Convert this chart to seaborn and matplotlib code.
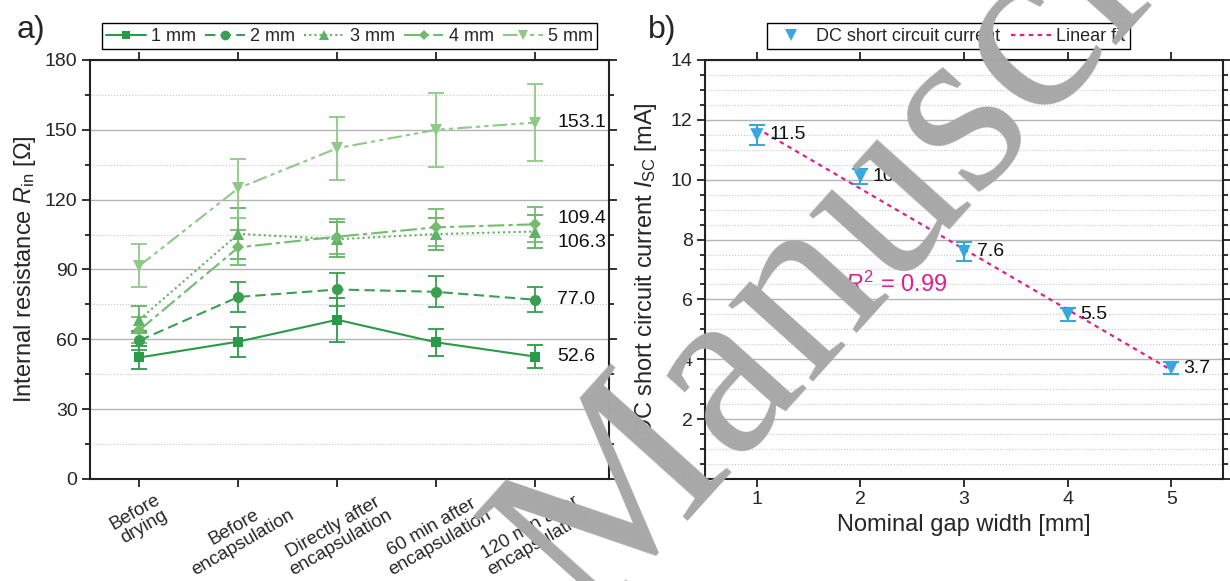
import numpy as np
import matplotlib
matplotlib.use("Agg")
import matplotlib.pyplot as plt
from matplotlib.lines import Line2D
from matplotlib.ticker import MultipleLocator
import seaborn as sns

# a) internal resistance over the process steps
stages = ["Before\ndrying", "Before\nencapsulation", "Directly after\nencapsulation",
          "60 min after\nencapsulation", "120 min after\nencapsulation"]
gap_names = ["1 mm", "2 mm", "3 mm", "4 mm", "5 mm"]

r_1mm = [52.2, 59.0, 68.4, 58.7, 52.6]
r_1mm_err = [5.0, 6.5, 9.5, 5.7, 4.8]
r_2mm = [59.5, 78.2, 81.4, 80.4, 77.0]
r_2mm_err = [4.0, 6.5, 7.2, 6.7, 5.4]
r_3mm = [68.5, 105.3, 103.0, 105.2, 106.3]
r_3mm_err = [6.0, 11.0, 7.5, 7.0, 7.0]
r_4mm = [64.0, 99.5, 104.1, 108.1, 109.4]
r_4mm_err = [5.5, 7.5, 7.5, 8.0, 7.5]
r_5mm = [91.6, 124.9, 142.1, 150.0, 153.1]
r_5mm_err = [9.3, 12.6, 13.5, 16.0, 16.4]

# b) short circuit current vs gap width
gap_mm = [1, 2, 3, 4, 5]
isc = [11.5, 10.1, 7.6, 5.5, 3.7]
isc_err = [0.34, 0.25, 0.31, 0.21, 0.2]

greens = ["#2b9a48", "#3a9f50", "#5fb263", "#74bb70", "#8fc987"]
styles = ["-", (0, (5, 2.5)), (0, (1, 1.5)), (0, (8, 2, 2, 2)), (0, (7, 2, 2, 2, 2, 2))]
markers = ["s", "o", "^", "D", "v"]
msizes = [7, 8, 8, 6.5, 8]
label_nudge = [0, 0, -8, 4, 0]   # points, to keep 106.3 / 109.4 apart
blue = "#34a8df"
pink = "#dc1f8c"

sns.set_theme(style="ticks")
plt.rcParams["font.family"] = ["Liberation Sans", "DejaVu Sans"]
plt.rcParams["mathtext.fontset"] = "custom"
plt.rcParams["mathtext.rm"] = "Liberation Sans"
plt.rcParams["mathtext.it"] = "Liberation Sans:italic"

fig = plt.figure(figsize=(12.3, 5.81), dpi=100)
ax1 = fig.add_axes([0.0732, 0.1756, 0.422, 0.7212])
ax2 = fig.add_axes([0.5732, 0.1756, 0.4211, 0.7212])


def style_axes(ax, minor_step):
    ax.yaxis.set_minor_locator(MultipleLocator(minor_step))
    ax.grid(False)
    ax.yaxis.grid(True, which="major", color="#b4b4b4", lw=1.0, ls="-")
    ax.yaxis.grid(True, which="minor", color="#c8c8c8", lw=0.8, ls=":")
    ax.set_axisbelow(True)
    ax.tick_params(which="both", direction="out", top=True, right=True,
                   color="#222222", width=1.3, labelsize=14, pad=3)
    ax.tick_params(which="major", length=6)
    ax.tick_params(which="minor", length=3.5)
    ax.tick_params(axis="x", which="minor", top=False, bottom=False)
    for sp in ax.spines.values():
        sp.set_visible(True)
        sp.set_color("#222222")
        sp.set_linewidth(1.5)


# ---- panel a ----
x_idx = np.arange(len(stages))
series = [(r_1mm, r_1mm_err), (r_2mm, r_2mm_err), (r_3mm, r_3mm_err),
          (r_4mm, r_4mm_err), (r_5mm, r_5mm_err)]
handles = []
for i, (vals, errs) in enumerate(series):
    col = greens[i]
    ax1.errorbar(x_idx, vals, yerr=errs, fmt="none", ecolor=col,
                 elinewidth=1.3, capsize=6, capthick=1.3, zorder=2)
    sns.lineplot(x=x_idx, y=vals, ax=ax1, color=col, linestyle=styles[i],
                 marker=markers[i], markersize=msizes[i], markeredgewidth=0,
                 lw=1.5, zorder=3)
    ax1.annotate(f"{vals[-1]:.1f}", xy=(x_idx[-1], vals[-1]),
                 xytext=(16, label_nudge[i]), textcoords="offset points",
                 ha="left", va="center", fontsize=14, color="#111111")
    handles.append(Line2D([], [], color=col, ls=styles[i], marker=markers[i],
                          ms=msizes[i] - 1, mew=0, lw=1.5, label=gap_names[i]))

ax1.set_xlim(-0.5, 4.75)
ax1.set_ylim(0, 180)
ax1.yaxis.set_major_locator(MultipleLocator(30))
style_axes(ax1, 15)
ax1.set_xticks(x_idx)
ax1.set_xticklabels(stages, rotation=30, ha="center", va="top", fontsize=13.5,
                    linespacing=1.0)
ax1.set_xlabel("")
ax1.set_ylabel("Internal resistance $R_\\mathrm{in}$ [Ω]", fontsize=17)
ax1.yaxis.set_label_coords(-0.1, 0.5)

leg1 = ax1.legend(handles=handles, loc="lower center", bbox_to_anchor=(0.5, 1.025),
                  ncol=5, frameon=True, fancybox=False, edgecolor="black",
                  framealpha=1, fontsize=13, handlelength=2.2, handletextpad=0.3,
                  columnspacing=0.5, borderpad=0.25, borderaxespad=0)
leg1.get_frame().set_linewidth(1.0)

# ---- panel b ----
ax2.errorbar(gap_mm, isc, yerr=isc_err, fmt="none", ecolor=blue,
             elinewidth=1.5, capsize=6, capthick=1.5, zorder=2)
sns.regplot(x=gap_mm, y=isc, ax=ax2, scatter=False, ci=None, truncate=True,
            line_kws=dict(color=pink, linestyle=(0, (2, 2)), lw=1.6, zorder=3))
sns.scatterplot(x=gap_mm, y=isc, ax=ax2, marker="v", s=90, color=blue,
                edgecolor="none", zorder=4)
for gx, gy in zip(gap_mm, isc):
    ax2.annotate(f"{gy:.1f}", xy=(gx, gy), xytext=(9, 0),
                 textcoords="offset points", ha="left", va="center",
                 fontsize=14, color="#111111")

slope, intercept = np.polyfit(gap_mm, isc, 1)
pred = slope * np.array(gap_mm) + intercept
r2 = 1 - np.sum((np.array(isc) - pred) ** 2) / np.sum((np.array(isc) - np.mean(isc)) ** 2)
ax2.text(1.85, 6.5, f"$R^2$ = {r2:.2f}", color=pink, fontsize=17,
         ha="left", va="center")

ax2.set_xlim(0.5, 5.5)
ax2.set_ylim(0, 14)
ax2.set_xticks(gap_mm)
ax2.yaxis.set_major_locator(MultipleLocator(2))
style_axes(ax2, 0.5)
ax2.set_xlabel("Nominal gap width [mm]", fontsize=17, labelpad=4)
ax2.set_ylabel("DC short circuit current $I_\\mathrm{SC}$ [mA]", fontsize=17)
ax2.yaxis.set_label_coords(-0.088, 0.5)

h2 = [Line2D([], [], color=blue, marker="v", ms=9, mew=0, ls="none",
             label="DC short circuit current"),
      Line2D([], [], color=pink, ls=(0, (2, 2)), lw=1.6, label="Linear fit")]
leg2 = ax2.legend(handles=h2, loc="lower center", bbox_to_anchor=(0.47, 1.025),
                  ncol=2, frameon=True, fancybox=False, edgecolor="black",
                  framealpha=1, fontsize=13, handlelength=2.2, handletextpad=0.3,
                  columnspacing=0.6, borderpad=0.25, borderaxespad=0)
leg2.get_frame().set_linewidth(1.0)

fig.text(0.025, 0.948, "a)", fontsize=23, ha="center", va="center")
fig.text(0.538, 0.948, "b)", fontsize=23, ha="center", va="center")

# watermark over both panels
fig.text(0.478, -0.075, "Manuscript", fontsize=178, family="Liberation Serif",
         color="#a8a8a8", rotation=48, rotation_mode="anchor",
         ha="left", va="baseline", zorder=100)

fig.savefig("out.png", dpi=100)
